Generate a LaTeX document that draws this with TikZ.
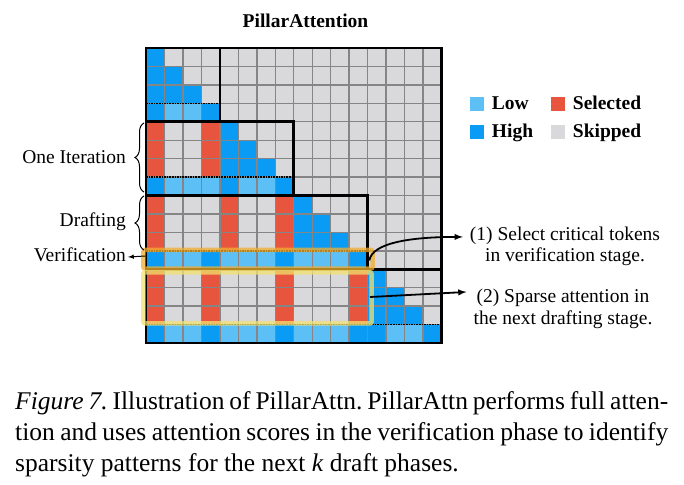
\documentclass[tikz,border=0pt]{standalone}
\usepackage{fontspec}
\setmainfont{Liberation Serif}
\usepackage{tikz}
\usetikzlibrary{positioning,decorations.pathreplacing}
\definecolor{H}{HTML}{0A9CF5}
\definecolor{L}{HTML}{5CBFF6}
\definecolor{R}{HTML}{E8553F}
\definecolor{G}{HTML}{D9D9DC}
\definecolor{GridLine}{HTML}{858585}
\definecolor{Verif}{HTML}{F2AE2E}
\definecolor{Draft}{HTML}{F2E270}
\tikzset{>=latex}
\frenchspacing

\begin{document}
\begin{tikzpicture}[x=1pt, y=-1pt,
    txt/.style={inner sep=0, font=\fontsize{19.5}{21.5}\selectfont, text height=13pt, text depth=4pt},
    keytxt/.style={inner sep=0, font=\fontsize{19.5}{21.5}\selectfont\bfseries, text height=11pt, text depth=0pt},
    key/.style={inner sep=0, minimum size=14pt, draw=none},
    hl/.style={draw, line width=4.5pt, rounded corners=2pt, inner sep=0},
    conn/.style={->, line width=1.8pt}]
  \useasboundingbox (0,0) rectangle (684,484);

  % attention map, 16 x 16 tokens
  \begin{scope}[shift={(146,48)}, x=18.47pt, y=-18.44pt]
    \foreach \row/\cells in {
        0/{H,G,G,G,G,G,G,G,G,G,G,G,G,G,G,G},
        1/{H,H,G,G,G,G,G,G,G,G,G,G,G,G,G,G},
        2/{H,H,H,G,G,G,G,G,G,G,G,G,G,G,G,G},
        3/{H,L,L,H,G,G,G,G,G,G,G,G,G,G,G,G},
        4/{R,G,G,R,H,G,G,G,G,G,G,G,G,G,G,G},
        5/{R,G,G,R,H,H,G,G,G,G,G,G,G,G,G,G},
        6/{R,G,G,R,H,H,H,G,G,G,G,G,G,G,G,G},
        7/{H,L,L,L,H,L,L,H,G,G,G,G,G,G,G,G},
        8/{R,G,G,G,R,G,G,R,H,G,G,G,G,G,G,G},
        9/{R,G,G,G,R,G,G,R,H,H,G,G,G,G,G,G},
        10/{R,G,G,G,R,G,G,R,H,H,H,G,G,G,G,G},
        11/{H,L,L,H,L,L,L,H,L,L,L,H,G,G,G,G},
        12/{R,G,G,R,G,G,G,R,G,G,G,R,H,G,G,G},
        13/{R,G,G,R,G,G,G,R,G,G,G,R,H,H,G,G},
        14/{R,G,G,R,G,G,G,R,G,G,G,R,H,H,H,G},
        15/{H,L,L,H,L,L,L,H,L,L,L,H,H,L,L,H}} {
      \foreach \c [count=\col from 0] in \cells
        \fill[\c] (\col,\row) rectangle ++(1,1);
    }
    \foreach \i in {1,...,15} {
      \draw[GridLine, line width=1.4pt] (\i,0) -- (\i,16);
      \draw[GridLine, line width=1.4pt] (0,\i) -- (16,\i);
    }
    % end of each drafting run
    \foreach \k in {1,...,4}
      \draw[densely dotted, line width=1.6pt] (0,4*\k-1) -- (4*\k,4*\k-1);
    % iterations
    \draw[line width=2.6pt] (4,0) -- (4,4) (0,4) -- (8,4) -- (8,8)
      (0,8) -- (12,8) -- (12,12) (0,12) -- (16,12);
    \draw[line width=2.6pt] (0,0) rectangle (16,16);
  \end{scope}

  \node (verifbox) at (257.9,259.25) [hl, draw=Verif, draw opacity=0.75,
    minimum width=229.2pt, minimum height=18.9pt] {};
  \node (draftbox) at (257.5,297.85) [hl, draw=Draft, draw opacity=0.75,
    minimum width=228.4pt, minimum height=51.1pt] {};

  \node (title) at (305.5,23.5) [txt, font=\fontsize{19.5}{21.5}\selectfont\bfseries] {PillarAttention};

  % left labels
  \node (iter) at (126,158.7) [txt, anchor=east] {One Iteration};
  \node (draft) at (126,222) [txt, anchor=east] {Drafting};
  \node (verif) at (126,257) [txt, anchor=east] {Verification};
  \draw[decorate, decoration={brace, amplitude=9pt}, line width=1pt] (144,192) -- (144,123);
  \draw[decorate, decoration={brace, amplitude=9pt}, line width=1pt] (144,250) -- (144,196);
  \coordinate (vrow) at (145,256);
  \draw[->, line width=1pt] (vrow) -- ([xshift=2pt]verif.east);

  % legend
  \node (lowkey) at (477,104) [key, fill=L] {};
  \node (highkey) at (477,132) [key, fill=H] {};
  \node (selkey) at (558,104) [key, fill=R] {};
  \node (skipkey) at (558,132) [key, fill=G] {};
  \node [keytxt, right=7.5pt of lowkey] {Low};
  \node [keytxt, right=7.5pt of highkey] {High};
  \node [keytxt, right=7.5pt of selkey] {Selected};
  \node [keytxt, right=7.5pt of skipkey] {Skipped};

  % right notes
  \node (step1) at (565,226.6) [anchor=north, inner sep=0, align=center,
    font=\fontsize{19.5}{21.5}\selectfont] {(1) Select critical tokens\\in verification stage.};
  \node (step2) at (563,288.3) [anchor=north, inner sep=0, align=center,
    font=\fontsize{19.5}{22}\selectfont] {(2) Sparse attention in\\the next drafting stage.};
  \coordinate (from1) at (369.3,260.5);
  \coordinate (from2) at (370,297);
  \draw[conn] (from1) .. controls (372,243) and (410,237) .. ([xshift=-7pt,yshift=9.5pt]step1.west);
  \draw[conn] (from2) -- ([xshift=-7pt,yshift=16.4pt]step2.west);

  \node (caption) at (15,391) [anchor=north west, inner sep=0, align=left,
    font=\fontsize{25.5}{31}\selectfont]
    {\makebox[653pt][s]{\textit{Figure 7.} Illustration of PillarAttn. PillarAttn performs full atten-}\\
     \makebox[653pt][s]{tion and uses attention scores in the verification phase to identify}\\
     sparsity patterns for the next \textit{k} draft phases.};
\end{tikzpicture}
\end{document}
